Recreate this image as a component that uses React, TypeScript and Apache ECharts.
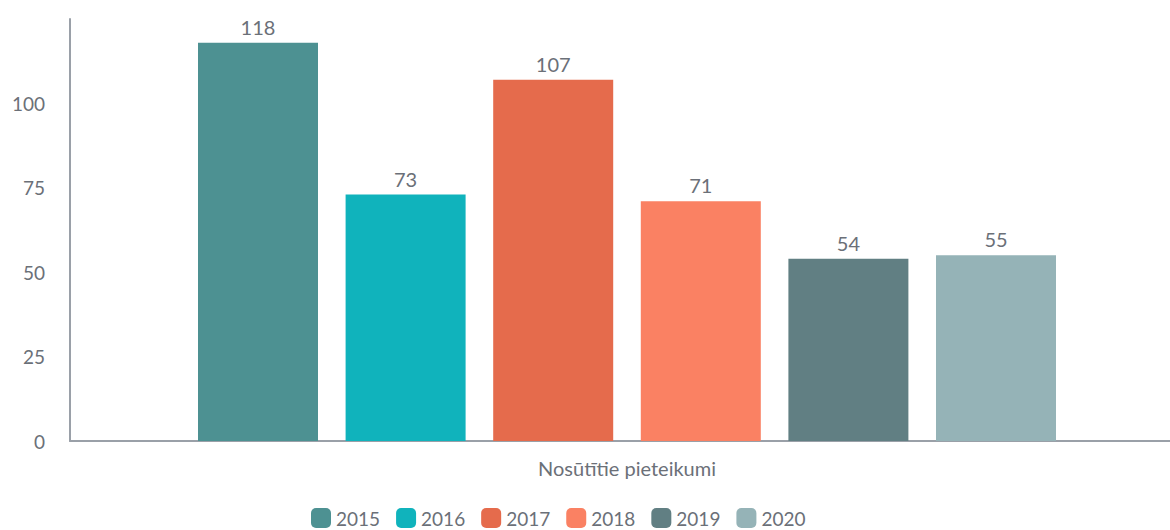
import React, { useEffect, useRef } from "react";
import * as echarts from "echarts";

const categories = ["Nosūtītie pieteikumi"];
const years = ["2015", "2016", "2017", "2018", "2019", "2020"];
const values = [118, 73, 107, 71, 54, 55];
const colors = ["#4d9192", "#10b3bc", "#e56b4c", "#fa8163", "#617f83", "#95b3b7"];
const yTicks = [0, 25, 50, 75, 100, 125];

export default function App() {
  const ref = useRef<HTMLDivElement>(null);
  useEffect(() => {
    if (!ref.current) return;
    const chart = echarts.init(ref.current, undefined, { renderer: "svg" });
    const textColor = "#6b7078";
    chart.setOption({
      animation: false,
      textStyle: { fontFamily: "Lato" },
      grid: { left: 70, width: 1114, top: 19, height: 422, containLabel: false, outerBoundsMode: "none" },
      legend: {
        top: 508,
        left: 311,
        padding: 0,
        itemWidth: 20,
        itemHeight: 20,
        itemGap: 16,
        icon: "roundRect",
        textStyle: { fontSize: 19, color: textColor, fontFamily: "Lato" },
        data: years,
      },
      xAxis: {
        type: "category",
        data: categories,
        axisLine: { show: true, lineStyle: { color: "#9aa0a8", width: 2 } },
        axisTick: { show: false },
        axisLabel: { fontSize: 20, color: textColor, margin: 17, fontFamily: "Lato" },
      },
      yAxis: {
        type: "value",
        min: yTicks[0],
        max: yTicks[yTicks.length - 1],
        interval: 25,
        axisLine: { show: true, lineStyle: { color: "#9aa0a8", width: 2 } },
        axisTick: { show: false },
        splitLine: { show: false },
        axisLabel: { fontSize: 19, color: textColor, margin: 25, showMaxLabel: false, fontFamily: "Lato" },
      },
      series: years.map((y, i) => ({
        name: y,
        type: "bar",
        data: [values[i]],
        barWidth: 120,
        barGap: "23%",
        itemStyle: { color: colors[i] },
        label: { show: true, position: "top", distance: 6, fontSize: 20, color: textColor, fontFamily: "Lato" },
      })),
    });
    return () => chart.dispose();
  }, []);
  return (
    <div
      ref={ref}
      style={{ position: "fixed", left: 0, top: 0, width: 1170, height: 530, background: "#ffffff" }}
    />
  );
}
